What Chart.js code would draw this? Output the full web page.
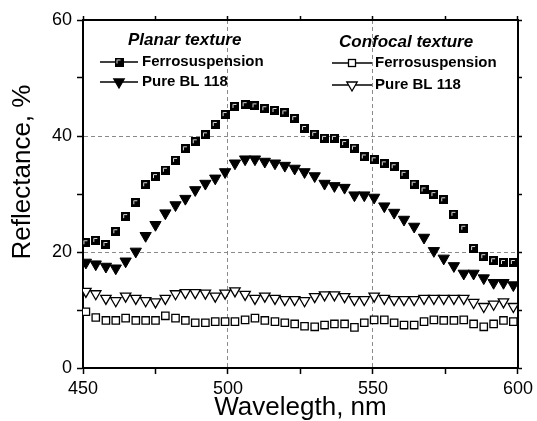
<!DOCTYPE html>
<html>
<head>
<meta charset="utf-8">
<script src="https://cdn.jsdelivr.net/npm/chart.js@4.4.1/dist/chart.umd.min.js"></script>
<style>
  body { margin: 0; background: #fff; }
</style>
</head>
<body>
<canvas id="chart" width="537" height="421"></canvas>
<script>
// wavelength samples, nm
const wavelength = [451.0, 454.4, 457.9, 461.3, 464.7, 468.2, 471.6, 475.0, 478.4, 481.9,
  485.3, 488.7, 492.2, 495.6, 499.0, 502.4, 505.9, 509.3, 512.7, 516.2,
  519.6, 523.0, 526.4, 529.9, 533.3, 536.7, 540.2, 543.6, 547.0, 550.4,
  553.9, 557.3, 560.7, 564.2, 567.6, 571.0, 574.4, 577.9, 581.3, 584.7,
  588.2, 591.6, 595.0, 598.4];

// reflectance, %
const planarFerro = [21.6, 22.0, 21.3, 23.5, 26.1, 28.5, 31.6, 33.0, 34.1, 35.8,
  37.8, 39.0, 40.2, 42.0, 43.7, 45.1, 45.4, 45.2, 44.7, 44.4,
  44.0, 43.0, 41.3, 40.3, 39.6, 39.6, 38.7, 37.9, 36.4, 35.9,
  35.2, 34.7, 33.4, 31.7, 30.7, 29.9, 29.0, 26.5, 24.1, 20.6,
  19.2, 18.5, 18.2, 18.2];
const planarPure = [18.2, 17.9, 17.5, 17.2, 18.4, 20.1, 22.8, 24.7, 26.7, 28.1,
  29.2, 30.7, 31.8, 32.7, 33.8, 35.3, 36.0, 36.0, 35.6, 35.3,
  34.9, 34.4, 33.8, 33.1, 31.8, 31.4, 31.1, 29.8, 29.8, 29.4,
  27.9, 26.8, 25.6, 24.4, 22.5, 20.2, 18.9, 17.6, 16.3, 16.3,
  15.5, 14.7, 14.7, 14.3];
const confocalFerro = [9.7, 8.7, 8.2, 8.2, 8.6, 8.2, 8.2, 8.2, 9.0, 8.6,
  8.2, 7.8, 7.8, 8.0, 8.0, 8.0, 8.3, 8.6, 8.2, 8.0,
  7.8, 7.6, 7.2, 7.1, 7.4, 7.6, 7.6, 7.0, 7.8, 8.3,
  8.3, 7.8, 7.4, 7.4, 8.0, 8.3, 8.2, 8.2, 8.3, 7.6,
  7.1, 7.6, 8.2, 8.0];
const confocalPure = [13.2, 12.8, 12.0, 11.6, 12.4, 12.0, 11.6, 11.4, 12.0, 12.8,
  13.0, 13.0, 12.9, 12.4, 12.9, 13.3, 12.7, 12.0, 12.4, 12.0,
  11.8, 11.8, 11.6, 12.3, 12.6, 12.6, 12.3, 11.8, 11.8, 12.4,
  12.0, 11.8, 11.8, 11.8, 12.0, 12.0, 12.0, 12.0, 12.0, 11.3,
  10.6, 11.0, 11.4, 10.6];

const xLabels = [450, 500, 550, 600];
const yLabels = [0, 20, 40, 60];
const xGrid = [500, 550];
const yGrid = [20, 40];

const FONT = "'Liberation Sans', Arial, sans-serif";
Chart.defaults.font.family = FONT;
Chart.defaults.color = '#000';

const pts = ys => ys.map((y, i) => ({ x: wavelength[i], y: y }));

// filled square with the light inner edge
function makeSquare(size) {
  const c = document.createElement('canvas');
  c.width = size; c.height = size;
  const g = c.getContext('2d');
  g.fillStyle = '#000';
  g.fillRect(0, 0, size, size);
  g.strokeStyle = '#ddd';
  g.lineWidth = 1;
  g.beginPath();
  g.moveTo(2.5, size - 3);
  g.lineTo(2.5, 2.5);
  g.lineTo(size - 3, 2.5);
  g.stroke();
  return c;
}
const squareImg = makeSquare(9);

function downTriangle(ctx, x, y, r, filled) {
  ctx.beginPath();
  ctx.moveTo(x, y + r);
  ctx.lineTo(x - r * 0.866, y - r / 2);
  ctx.lineTo(x + r * 0.866, y - r / 2);
  ctx.closePath();
  ctx.fillStyle = filled ? '#000' : '#fff';
  ctx.fill();
  ctx.lineWidth = 1.3;
  ctx.strokeStyle = '#000';
  ctx.stroke();
}

const legendPlugin = {
  id: 'groupLegend',
  afterDraw(chart) {
    const ctx = chart.ctx;
    ctx.save();
    ctx.fillStyle = '#000';
    ctx.textBaseline = 'middle';
    ctx.textAlign = 'left';

    // y axis title
    ctx.save();
    ctx.translate(23, 172);
    ctx.rotate(-Math.PI / 2);
    ctx.textAlign = 'center';
    ctx.font = '26px ' + FONT;
    ctx.fillText('Reflectance, %', 0, 0);
    ctx.restore();

    const groups = [
      { title: 'Planar texture', tx: 128, ty: 40, lx: 100, lw: 38, textX: 142, y1: 62, y2: 82, filled: true },
      { title: 'Confocal texture', tx: 339, ty: 42, lx: 332, lw: 40, textX: 375, y1: 63, y2: 85, filled: false }
    ];
    groups.forEach(gp => {
      ctx.font = 'italic bold 17px ' + FONT;
      ctx.fillText(gp.title, gp.tx, gp.ty);
      ctx.font = 'bold 15px ' + FONT;
      ctx.fillText('Ferrosuspension', gp.textX, gp.y1);
      ctx.fillText('Pure BL 118', gp.textX, gp.y2);

      ctx.strokeStyle = '#000';
      ctx.lineWidth = 1.5;
      [gp.y1, gp.y2].forEach(y => {
        ctx.beginPath();
        ctx.moveTo(gp.lx, y);
        ctx.lineTo(gp.lx + gp.lw, y);
        ctx.stroke();
      });
      const mx = gp.lx + gp.lw / 2;
      if (gp.filled) {
        ctx.drawImage(squareImg, mx - 4.5, gp.y1 - 4.5);
      } else {
        ctx.fillStyle = '#fff';
        ctx.fillRect(mx - 3.5, gp.y1 - 3.5, 7, 7);
        ctx.lineWidth = 1.3;
        ctx.strokeRect(mx - 3.5, gp.y1 - 3.5, 7, 7);
        ctx.fillStyle = '#000';
      }
      downTriangle(ctx, mx, gp.y2, 6, gp.filled);
      ctx.fillStyle = '#000';
    });
    ctx.restore();
  }
};

const gridColor = list => c => (c.tick && list.includes(c.tick.value)) ? '#8a8a8a' : 'rgba(0,0,0,0)';

new Chart(document.getElementById('chart'), {
  type: 'scatter',
  data: {
    datasets: [
      {
        label: 'Planar Ferrosuspension',
        data: pts(planarFerro),
        pointStyle: squareImg,
        pointRadius: 5
      },
      {
        label: 'Planar Pure BL 118',
        data: pts(planarPure),
        pointStyle: 'triangle',
        rotation: 180,
        pointRadius: 6.5,
        backgroundColor: '#000',
        borderColor: '#000',
        borderWidth: 1
      },
      {
        label: 'Confocal Ferrosuspension',
        data: pts(confocalFerro),
        pointStyle: 'rect',
        pointRadius: 5.2,
        backgroundColor: '#fff',
        borderColor: '#000',
        borderWidth: 1.3
      },
      {
        label: 'Confocal Pure BL 118',
        data: pts(confocalPure),
        pointStyle: 'triangle',
        rotation: 180,
        pointRadius: 6,
        backgroundColor: '#fff',
        borderColor: '#000',
        borderWidth: 1.3
      }
    ]
  },
  options: {
    responsive: false,
    animation: false,
    layout: { padding: 0 },
    plugins: {
      legend: { display: false },
      tooltip: { enabled: false }
    },
    scales: {
      x: {
        type: 'linear',
        position: 'bottom',
        min: 450, max: 600,
        afterFit: s => { s.height = 53; },
        ticks: {
          stepSize: 25,
          padding: 4,
          font: { size: 18 },
          maxRotation: 0,
          callback: v => xLabels.includes(v) ? v : ''
        },
        grid: { color: gridColor(xGrid), tickColor: '#000', tickLength: 6, tickWidth: 1.5 },
        border: { color: '#000', width: 2, dash: [4, 3] },
        title: {
          display: true,
          text: 'Wavelegth, nm',
          font: { size: 26, lineHeight: 1 },
          padding: 0
        }
      },
      y: {
        position: 'left',
        min: 0, max: 60,
        afterFit: s => { s.width = 83; },
        ticks: {
          stepSize: 10,
          padding: 5,
          font: { size: 18 },
          callback: v => yLabels.includes(v) ? v : ''
        },
        grid: { color: gridColor(yGrid), tickColor: '#000', tickLength: 6, tickWidth: 1.5 },
        border: { color: '#000', width: 2, dash: [4, 3] }
      },
      x2: {
        type: 'linear',
        position: 'top',
        min: 450, max: 600,
        afterFit: s => { s.height = 20; },
        ticks: { stepSize: 25, display: false },
        grid: { drawOnChartArea: false, tickColor: '#000', tickLength: 4, tickWidth: 1.5 },
        border: { color: '#000', width: 2 }
      },
      y2: {
        position: 'right',
        min: 0, max: 60,
        afterFit: s => { s.width = 18; },
        ticks: { stepSize: 10, display: false },
        grid: { drawOnChartArea: false, tickColor: '#000', tickLength: 4, tickWidth: 1.5 },
        border: { color: '#000', width: 2 }
      }
    }
  },
  plugins: [legendPlugin]
});
</script>
</body>
</html>
